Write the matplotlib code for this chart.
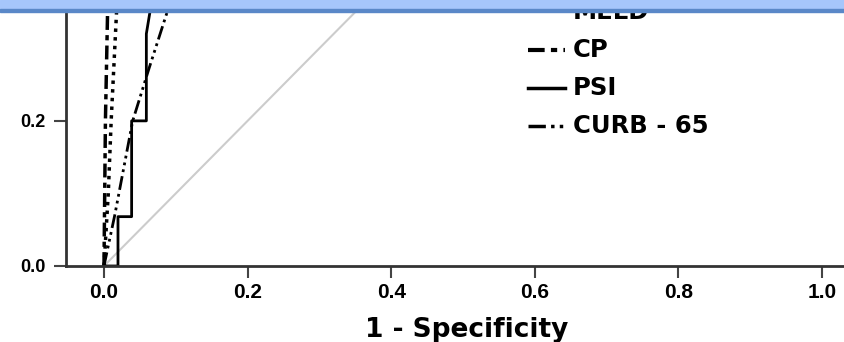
import numpy as np
import matplotlib
matplotlib.use('Agg')
import matplotlib.pyplot as plt
from matplotlib.patches import Rectangle

# ROC curves (1 - specificity, sensitivity), only the lower part is visible
psi_x = [0.0, 0.0195, 0.0195, 0.0385, 0.0385, 0.059, 0.059, 0.064, 0.07]
psi_y = [0.0, 0.0, 0.068, 0.068, 0.2, 0.2, 0.32, 0.35, 0.40]
cp_x = [0.0, 0.001, 0.002, 0.004, 0.006]
cp_y = [0.0, 0.1, 0.2, 0.3, 0.40]
meld_x = [0.0, 0.006, 0.01, 0.015, 0.02]
meld_y = [0.0, 0.1, 0.2, 0.3, 0.40]
curb_x = [0.0, 0.015, 0.04, 0.062, 0.088, 0.10]
curb_y = [0.0, 0.07, 0.2, 0.27, 0.35, 0.40]
ref_x = [0.0, 1.0]
ref_y = [0.0, 1.0]

x_ticks = [0.0, 0.2, 0.4, 0.6, 0.8, 1.0]
y_ticks = [0.0, 0.2]
legend_names = ['MELD', 'CP', 'PSI', 'CURB - 65']

fig = plt.figure(figsize=(8.44, 3.42), dpi=100)
ax = fig.add_axes([66 / 844, 76 / 342, 1 - 66 / 844, (266 - 12) / 342])

ax.plot(ref_x, ref_y, color='#cccccc', lw=1.5, zorder=1)
ax.plot(meld_x, meld_y, color='black', lw=2.5, ls=(0, (1, 1.5)))
ax.plot(cp_x, cp_y, color='black', lw=2.5, ls=(0, (4, 1.5, 1.5, 1.5)))
ax.plot(psi_x, psi_y, color='black', lw=2)
ax.plot(curb_x, curb_y, color='black', lw=2, ls=(0, (5, 1.5, 1, 1.5, 1, 1.5, 1, 1.5)))

ax.set_xlim(-0.0529, 1.0306)
ax.set_ylim(0.0, 0.35)
ax.set_xticks(x_ticks, ['%.1f' % v for v in x_ticks])
ax.set_yticks(y_ticks, ['%.1f' % v for v in y_ticks])
ax.tick_params(length=8.5, width=1.5, color='#444444', labelfontfamily='Liberation Sans')
ax.tick_params(axis='x', pad=3.5, labelsize=15)
ax.tick_params(axis='y', pad=6.5, labelsize=13)
for lbl in ax.get_xticklabels() + ax.get_yticklabels():
    lbl.set_fontweight('bold')
for s in ['top', 'right']:
    ax.spines[s].set_visible(False)
for s in ['left', 'bottom']:
    ax.spines[s].set_linewidth(2)
    ax.spines[s].set_color('#333333')
fig.text(467 / 844, 5 / 342, '1 - Specificity', fontsize=19, fontweight='heavy',
         ha='center', va='baseline')

# legend drawn by hand, the top entry is cut off by the header band
styles = [dict(ls=(0, (1, 1.5)), lw=2.5), dict(ls=(0, (4, 1.5, 1.5, 1.5)), lw=3),
          dict(ls='-', lw=2.5), dict(ls=(0, (5, 1.5, 1, 1.5, 1, 1.5, 1, 1.5)), lw=2.5)]
for i, (name, st) in enumerate(zip(legend_names, styles)):
    yp = (342 - (12 + 38 * i)) / 342
    if i > 0:
        fig.add_artist(plt.Line2D([528 / 844, 565 / 844], [yp, yp], color='black', **st))
    fig.text(573 / 844, yp, name, fontsize=17.5, fontweight='heavy', va='center', ha='left')

# blue header band on top
fig.add_artist(Rectangle((0, 1 - 9 / 342), 1, 9 / 342, transform=fig.transFigure,
                         color='#a6c6fb', zorder=10))
fig.add_artist(Rectangle((0, 1 - 12 / 342), 1, 3 / 342, transform=fig.transFigure,
                         color='#5a88c8', zorder=10))

fig.savefig('out.png', dpi=100)
